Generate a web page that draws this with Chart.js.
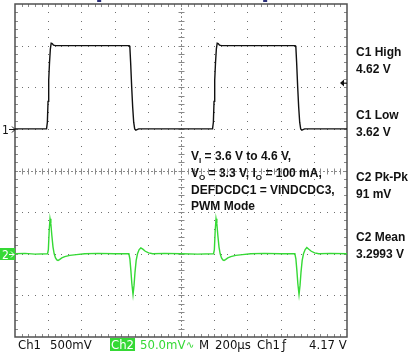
<!DOCTYPE html>
<html>
<head>
<meta charset="utf-8">
<script src="https://cdn.jsdelivr.net/npm/chart.js@4.4.0/dist/chart.umd.min.js"></script>
<style>
  html, body { margin: 0; padding: 0; background: #fff; }
  #wrap { width: 415px; height: 353px; }
</style>
</head>
<body>
<div id="wrap"><canvas id="scope" width="415" height="353"></canvas></div>
<script>
// time base 200 us/div, 10 divisions across
const timeRangeUs = [0, 2000];
const divsX = 10;
const divsY = 8;

// Ch1: 500 mV/div, reference marker at +1 div (3.62 V)
const ch1TimeUs = [0, 190, 195, 199, 203, 208, 213, 218, 224, 232, 245,
  688, 692, 697, 703, 709, 715, 721, 728, 745,
  1190, 1195, 1199, 1203, 1208, 1213, 1218, 1224, 1232, 1245,
  1688, 1692, 1697, 1703, 1709, 1715, 1721, 1728, 1745, 2000];
const ch1Volts = [3.62, 3.62, 3.70, 3.95, 4.20, 4.42, 4.58, 4.65, 4.645, 4.625, 4.62,
  4.62, 4.60, 4.40, 4.12, 3.88, 3.70, 3.62, 3.605, 3.62,
  3.62, 3.70, 3.95, 4.20, 4.42, 4.58, 4.65, 4.645, 4.625, 4.62,
  4.62, 4.60, 4.40, 4.12, 3.88, 3.70, 3.62, 3.605, 3.62, 3.62];

// Ch2: output ripple, 50 mV/div AC, marker at -2 div
const ch2TimeUs = [0, 60, 120, 196, 201, 206, 211, 216, 222, 229, 236, 244, 252, 259, 268, 282, 300, 330, 370, 420, 500, 600,
  686, 692, 698, 704, 711, 717, 723, 730, 738, 748, 758, 770, 785, 805, 830, 900, 1000, 1100,
  1196, 1201, 1206, 1211, 1216, 1222, 1229, 1236, 1244, 1252, 1259, 1268, 1282, 1300, 1330, 1370, 1420, 1500, 1600,
  1686, 1692, 1698, 1704, 1711, 1717, 1723, 1730, 1738, 1748, 1758, 1770, 1785, 1805, 1830, 1900, 2000];
const ch2RippleMv = [0, 0.5, -0.5, 0, 5, 28, 42, 36, 22, 8, 0, -5, -7.5, -8, -7, -5, -3.5, -2, -1, 0, 0.5, 0,
  0, -6, -20, -36, -49, -38, -22, -8, 0, 5, 7, 5.5, 3, 1, 0, 0.5, 0, -0.5,
  0, 5, 28, 42, 36, 22, 8, 0, -5, -7.5, -8, -7, -5, -3.5, -2, -1, 0, 0.5, 0,
  0, -6, -20, -36, -49, -38, -22, -8, 0, 5, 7.5, 5.5, 3, 1, 0, 0.5, 0];

const readouts = [
  ['C1 High', '4.62 V'],
  ['C1 Low', '3.62 V'],
  ['C2 Pk-Pk', '91 mV'],
  ['C2 Mean', '3.2993 V']
];

// condition text, [text, subscript?]
const conditionLines = [
  [['V', false], ['I', true], [' = 3.6 V to 4.6 V,', false]],
  [['V', false], ['O', true], [' = 3.3 V, I', false], ['O', true], [' = 100 mA,', false]],
  [['DEFDCDC1 = VINDCDC3,', false]],
  [['PWM Mode', false]]
];

const statusItems = [
  { text: 'Ch1', x: 18 },
  { text: '500mV', x: 50 },
  { text: 'Ch2', x: 111, box: true },
  { text: '50.0mV', x: 140, green: true },
  { text: '\u223F', x: 186, green: true, small: true },
  { text: 'M', x: 199 },
  { text: '200\u00B5s', x: 215 },
  { text: 'Ch1', x: 257 },
  { text: '\u0192', x: 282 },
  { text: '4.17 V', x: 309 }
];

const GREEN = '#35d935';
const ch1Div = v => 1 + (v - 3.62) / 0.5;
const ch2Div = mv => -2 + mv / 50;
const triggerDiv = ch1Div(4.17);

const ch1Points = ch1TimeUs.map((t, i) => ({ x: t, y: ch1Div(ch1Volts[i]) }));
const ch2Points = ch2TimeUs.map((t, i) => ({ x: t, y: ch2Div(ch2RippleMv[i]) }));

const scopeGrid = {
  id: 'scopeGrid',
  beforeDatasetsDraw(chart) {
    const { ctx, chartArea: a, scales: { x, y } } = chart;
    const stepX = (timeRangeUs[1] - timeRangeUs[0]) / divsX;
    ctx.save();
    // dotted graticule
    ctx.fillStyle = '#707070';
    for (let i = 1; i < divsX; i++) {
      const px = Math.round(x.getPixelForValue(i * stepX));
      for (let j = 1; j < divsY * 5; j++) {
        const py = Math.round(y.getPixelForValue(-4 + j / 5));
        ctx.fillRect(px, py, 1, 1);
      }
    }
    for (let j = 1; j < divsY; j++) {
      const py = Math.round(y.getPixelForValue(-4 + j));
      for (let i = 1; i < divsX * 5; i++) {
        const px = Math.round(x.getPixelForValue(i * stepX / 5));
        ctx.fillRect(px, py, 1, 1);
      }
    }
    // centre cross with minor ticks
    const cx = Math.round(x.getPixelForValue(1000)) + 0.5;
    const cy = Math.round(y.getPixelForValue(0)) + 0.5;
    ctx.strokeStyle = '#8a8a8a';
    ctx.lineWidth = 1;
    ctx.setLineDash([2, 2]);
    ctx.beginPath();
    ctx.moveTo(a.left, cy); ctx.lineTo(a.right, cy);
    ctx.moveTo(cx, a.top); ctx.lineTo(cx, a.bottom);
    ctx.stroke();
    ctx.setLineDash([]);
    ctx.beginPath();
    for (let i = 1; i < divsX * 5; i++) {
      const px = Math.round(x.getPixelForValue(i * stepX / 5)) + 0.5;
      ctx.moveTo(px, cy - 3); ctx.lineTo(px, cy + 3);
      ctx.moveTo(px, a.top); ctx.lineTo(px, a.top + 3);
      ctx.moveTo(px, a.bottom); ctx.lineTo(px, a.bottom - 3);
    }
    for (let j = 1; j < divsY * 5; j++) {
      const py = Math.round(y.getPixelForValue(-4 + j / 5)) + 0.5;
      ctx.moveTo(cx - 3, py); ctx.lineTo(cx + 3, py);
      ctx.moveTo(a.left, py); ctx.lineTo(a.left + 3, py);
      ctx.moveTo(a.right, py); ctx.lineTo(a.right - 3, py);
    }
    ctx.stroke();
    // frame
    ctx.strokeStyle = '#505050';
    ctx.lineWidth = 1.5;
    ctx.strokeRect(a.left, a.top, a.right - a.left, a.bottom - a.top);
    ctx.restore();
  },
  afterDraw(chart) {
    const { ctx, chartArea: a, scales: { x, y } } = chart;
    ctx.save();
    ctx.textBaseline = 'alphabetic';
    // right readouts
    ctx.fillStyle = '#111';
    ctx.font = 'bold 12px "Liberation Sans", Arial, sans-serif';
    const readY = [56, 119, 181, 241];
    readouts.forEach((r, i) => {
      ctx.fillText(r[0], 356, readY[i]);
      ctx.fillText(r[1], 356, readY[i] + 17);
    });
    // test conditions
    const condY = [160, 177, 194, 210];
    conditionLines.forEach((line, i) => {
      let cx = 191;
      line.forEach(([txt, sub]) => {
        ctx.font = sub ? 'bold 8px "Liberation Sans", Arial, sans-serif' : 'bold 12px "Liberation Sans", Arial, sans-serif';
        ctx.fillText(txt, cx, condY[i] + (sub ? 3 : 0));
        cx += ctx.measureText(txt).width;
      });
    });
    // channel markers
    const m1 = Math.round(y.getPixelForValue(1));
    ctx.font = '12px "DejaVu Sans Condensed", sans-serif';
    ctx.fillStyle = '#111';
    ctx.fillText('1', 2, m1 + 5);
    ctx.strokeStyle = '#111';
    ctx.lineWidth = 1;
    ctx.beginPath();
    ctx.moveTo(9, m1 + 0.5); ctx.lineTo(15, m1 + 0.5);
    ctx.moveTo(12, m1 - 2.5); ctx.lineTo(15, m1 + 0.5); ctx.lineTo(12, m1 + 3.5);
    ctx.stroke();
    const m2 = Math.round(y.getPixelForValue(-2));
    ctx.fillStyle = GREEN;
    ctx.fillRect(0, m2 - 6, 15, 12);
    ctx.fillStyle = '#fff';
    ctx.fillText('2', 2, m2 + 5);
    ctx.strokeStyle = '#fff';
    ctx.beginPath();
    ctx.moveTo(9, m2 + 0.5); ctx.lineTo(14, m2 + 0.5);
    ctx.moveTo(11, m2 - 2.5); ctx.lineTo(14, m2 + 0.5); ctx.lineTo(11, m2 + 3.5);
    ctx.stroke();
    // trigger level arrow on right edge
    const ty = y.getPixelForValue(triggerDiv);
    ctx.fillStyle = '#111';
    ctx.beginPath();
    ctx.moveTo(a.right - 7, ty); ctx.lineTo(a.right - 3, ty - 3.5); ctx.lineTo(a.right - 3, ty + 3.5);
    ctx.closePath(); ctx.fill();
    ctx.fillRect(a.right - 4, ty - 0.5, 4, 1.2);
    // small markers above the frame
    ctx.fillStyle = '#2b2f7a';
    ctx.fillRect(x.getPixelForValue(495), 0, 4, 2);
    ctx.fillRect(x.getPixelForValue(1495), 0, 4, 2);
    // status line
    ctx.font = '13px "Liberation Sans Narrow", "DejaVu Sans Condensed", sans-serif';
    statusItems.forEach(it => {
      if (it.box) {
        const w = ctx.measureText(it.text).width;
        ctx.fillStyle = GREEN;
        ctx.fillRect(it.x - 1, 338, w + 2, 13);
        ctx.fillStyle = '#fff';
      } else {
        ctx.fillStyle = it.green ? GREEN : '#111';
      }
      if (it.small) {
        ctx.font = '10px "DejaVu Sans", sans-serif';
        ctx.fillText(it.text, it.x, 348);
        ctx.font = '13px "Liberation Sans Narrow", "DejaVu Sans Condensed", sans-serif';
      } else {
        ctx.fillText(it.text, it.x, 349);
      }
    });
    ctx.restore();
  }
};

new Chart(document.getElementById('scope'), {
  type: 'line',
  data: {
    datasets: [
      { label: 'Ch1', data: ch1Points, borderColor: '#111', borderWidth: 1.4 },
      { label: 'Ch2', data: ch2Points, borderColor: GREEN, borderWidth: 1.4 }
    ]
  },
  options: {
    responsive: false,
    animation: false,
    events: [],
    layout: { padding: { left: 15, top: 4, right: 68, bottom: 16 } },
    elements: { point: { radius: 0 }, line: { tension: 0 } },
    plugins: { legend: { display: false }, tooltip: { enabled: false } },
    scales: {
      x: { type: 'linear', display: false, min: timeRangeUs[0], max: timeRangeUs[1] },
      y: { type: 'linear', display: false, min: -divsY / 2, max: divsY / 2 }
    }
  },
  plugins: [scopeGrid]
});
</script>
</body>
</html>
